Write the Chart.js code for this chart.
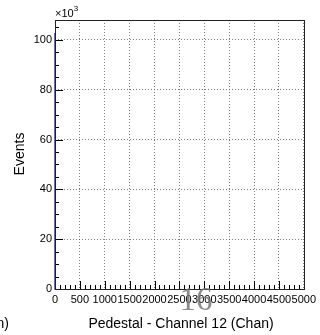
<!DOCTYPE html>
<html>
<head>
<meta charset="utf-8">
<script src="https://cdn.jsdelivr.net/npm/chart.js@4/dist/chart.umd.min.js"></script>
<style>
html,body{margin:0;padding:0;background:#fff;}
#c{display:block;}
</style>
</head>
<body>
<canvas id="c" width="320" height="335"></canvas>
<script>
// ---- data ----
const binEdges = [0, 20];              // Pedestal - Channel 12 (Chan), filled bin
const binCounts = [102800];            // Events in that bin
const xTickValues = [0, 500, 1000, 1500, 2000, 2500, 3000, 3500, 4000, 4500, 5000];
const yTickValues = [0, 20000, 40000, 60000, 80000, 100000];
const xMinorStep = 100;
const yMinorStep = 5000;
const xRange = [0, 5000];
const yRange = [0, 108000];
const xTitle = 'Pedestal - Channel 12 (Chan)';
const yTitle = 'Events';
const yExponent = '3';
const overlayLabel = '16';
const leftCutText = '(Chan)';

const FONT = '"Liberation Sans", Arial, Helvetica, sans-serif';

// build histogram outline points
const histPoints = [{x: binEdges[0], y: 0}];
for (let i = 0; i < binCounts.length; i++) {
  histPoints.push({x: binEdges[i], y: binCounts[i]});
}
histPoints.push({x: binEdges[binEdges.length - 1], y: 0});

const framePlugin = {
  id: 'rootFrame',
  afterDatasetsDraw(chart) {
    const ctx = chart.ctx;
    const a = chart.chartArea;
    const xs = chart.scales.x, ys = chart.scales.y;
    const majX = new Set(xTickValues), majY = new Set(yTickValues);
    ctx.save();
    ctx.strokeStyle = '#000';
    ctx.lineWidth = 1;
    ctx.beginPath();
    for (let v = xRange[0]; v <= xRange[1]; v += xMinorStep) {
      const px = Math.round(xs.getPixelForValue(v)) + 0.5;
      const len = majX.has(v) ? 8 : 4;
      ctx.moveTo(px, a.bottom);
      ctx.lineTo(px, a.bottom - len);
    }
    for (let v = yRange[0]; v <= yRange[1]; v += yMinorStep) {
      const py = Math.round(ys.getPixelForValue(v)) + 0.5;
      const len = majY.has(v) ? 8 : 4;
      ctx.moveTo(a.left, py);
      ctx.lineTo(a.left + len, py);
    }
    ctx.stroke();
    ctx.strokeStyle = '#222';
    ctx.strokeRect(Math.round(a.left) + 0.5, Math.round(a.top) + 0.5,
                   Math.round(a.right - a.left), Math.round(a.bottom - a.top));
    ctx.restore();
  },
  afterDraw(chart) {
    const ctx = chart.ctx;
    const a = chart.chartArea;
    ctx.save();
    ctx.fillStyle = '#000';
    ctx.font = '11px ' + FONT;
    ctx.textBaseline = 'alphabetic';
    ctx.textAlign = 'left';
    ctx.fillText('\u00d710', a.left, a.top - 3);
    const w = ctx.measureText('\u00d710').width;
    ctx.font = '8px ' + FONT;
    ctx.fillText(yExponent, a.left + w, a.top - 9);
    ctx.font = '14px ' + FONT;
    ctx.save();
    ctx.translate(20, 154);
    ctx.rotate(-Math.PI / 2);
    ctx.textAlign = 'center';
    ctx.textBaseline = 'middle';
    ctx.fillText(yTitle, 0, 0);
    ctx.restore();
    ctx.textAlign = 'center';
    ctx.textBaseline = 'middle';
    ctx.fillText(xTitle, 181, 324);
    ctx.textAlign = 'right';
    ctx.fillText(leftCutText, 9, 324);
    ctx.font = '33px "Liberation Serif", "Times New Roman", serif';
    ctx.fillStyle = 'rgba(120,120,120,0.85)';
    ctx.textAlign = 'center';
    ctx.textBaseline = 'alphabetic';
    ctx.fillText(overlayLabel, 196, 310);
    ctx.restore();
  }
};

new Chart(document.getElementById('c'), {
  type: 'line',
  data: {
    datasets: [{
      data: histPoints,
      stepped: 'after',
      borderColor: '#3535c8',
      borderWidth: 1.5,
      pointRadius: 0,
      fill: false,
      clip: false
    }]
  },
  options: {
    responsive: false,
    animation: false,
    devicePixelRatio: 1,
    layout: {padding: {top: 20, right: 14, left: 0, bottom: 0}},
    plugins: {legend: {display: false}, tooltip: {enabled: false}},
    scales: {
      x: {
        type: 'linear',
        min: xRange[0], max: xRange[1],
        afterFit(s) { s.height = 46; },
        afterBuildTicks(s) { s.ticks = xTickValues.map(v => ({value: v})); },
        border: {display: false, dash: [1, 2]},
        grid: {drawTicks: false, color: 'rgba(70,70,70,0.7)', lineWidth: 1},
        ticks: {
          autoSkip: false,
          maxRotation: 0,
          minRotation: 0,
          padding: 4,
          color: '#000',
          font: {family: FONT, size: 11},
          callback: (v) => String(v)
        }
      },
      y: {
        type: 'linear',
        min: yRange[0], max: yRange[1],
        afterFit(s) { s.width = 55; },
        afterBuildTicks(s) { s.ticks = yTickValues.map(v => ({value: v})); },
        border: {display: false, dash: [1, 2]},
        grid: {drawTicks: false, color: 'rgba(70,70,70,0.7)', lineWidth: 1},
        ticks: {
          padding: 3,
          color: '#000',
          font: {family: FONT, size: 11},
          callback: (v) => String(v / 1000)
        }
      }
    }
  },
  plugins: [framePlugin]
});
</script>
</body>
</html>
